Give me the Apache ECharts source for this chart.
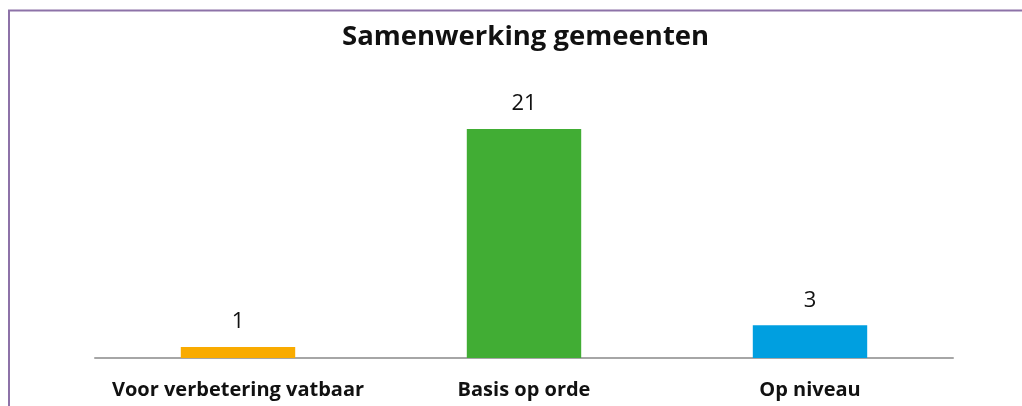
<!DOCTYPE html>
<html>
<head>
<meta charset="utf-8">
<script src="https://cdn.jsdelivr.net/npm/echarts@6/dist/echarts.min.js"></script>
<style>
  html, body { margin: 0; padding: 0; background: #ffffff; }
  #chart { width: 1022px; height: 406px; }
</style>
</head>
<body>
<div id="chart"></div>
<script>
const categories = ['Voor verbetering vatbaar', 'Basis op orde', 'Op niveau'];
const values = [1, 21, 3];
const barColors = ['#f9ab00', '#41ad34', '#009fe0'];

const fontFamily = '"Open Sans", "Noto Sans", sans-serif';

const chartDom = document.getElementById('chart');
const myChart = echarts.init(chartDom);

const option = {
  animation: false,
  title: {
    text: 'Samenwerking gemeenten',
    left: 342,
    top: 23,
    padding: 0,
    textStyle: {
      fontFamily: fontFamily,
      fontSize: 27.5,
      fontWeight: 'bold',
      color: '#111111'
    }
  },
  graphic: [
    {
      type: 'polyline',
      shape: { points: [[9, 410], [9, 10.5], [1030, 10.5]] },
      style: { stroke: '#8d72a8', lineWidth: 2, fill: null }
    }
  ],
  grid: {
    left: 95,
    right: 69,
    top: 85.5,
    bottom: 48
  },
  xAxis: {
    type: 'category',
    data: categories,
    axisLine: { lineStyle: { color: '#a6a6a6', width: 2 } },
    axisTick: { show: false },
    axisLabel: {
      interval: 0,
      hideOverlap: false,
      margin: 22,
      fontFamily: fontFamily,
      fontSize: 20,
      fontWeight: 'bold',
      color: '#111111'
    }
  },
  yAxis: {
    type: 'value',
    min: 0,
    max: 25,
    show: false,
    splitLine: { show: false }
  },
  series: [
    {
      type: 'bar',
      barWidth: '40%',
      data: values.map((v, i) => ({ value: v, itemStyle: { color: barColors[i] } })),
      label: {
        show: true,
        position: 'top',
        distance: 14,
        fontFamily: fontFamily,
        fontSize: 22,
        color: '#111111'
      }
    }
  ]
};

myChart.setOption(option);
</script>
</body>
</html>
